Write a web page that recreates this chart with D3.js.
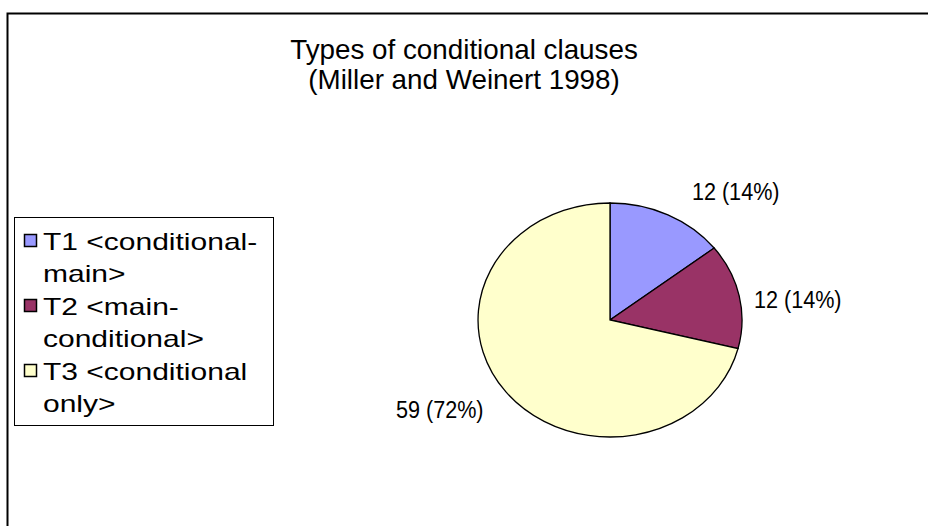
<!DOCTYPE html>
<html>
  <head>
    <meta charset="utf-8">
    <title>Types of conditional clauses</title>
    <script src="https://cdn.jsdelivr.net/npm/d3@7"></script>
    <style>
      body { margin: 0; background: #fff; }
      svg text { font-family: "Liberation Sans", Arial, Helvetica, sans-serif; fill: #000; }
    </style>
  </head>
  <body>
    <div id="chart"></div>
    <script>
      // data
      var categories = ["T1 <conditional-main>", "T2 <main-conditional>", "T3 <conditional only>"];
      var legendLines = [["T1 <conditional-", "main>"], ["T2 <main-", "conditional>"], ["T3 <conditional", "only>"]];
      var counts = [12, 12, 59];
      var pctLabels = ["14%", "14%", "72%"];
      var colors = ["#9999ff", "#993366", "#ffffcc"];
      var titleLines = ["Types of conditional clauses", "(Miller and Weinert 1998)"];

      var w = 928, h = 526;
      var svg = d3.select("#chart").append("svg")
        .attr("width", w)
        .attr("height", h);

      // outer chart frame (runs off the bottom/right)
      svg.append("rect")
        .attr("x", 7.5).attr("y", 13.5)
        .attr("width", 940).attr("height", 540)
        .attr("fill", "#fff")
        .attr("stroke", "#000")
        .attr("stroke-width", 2);

      // text widths in the picture don't follow one font, so each group gets its own scaleX
      svg.selectAll("g.title")
        .data(titleLines)
        .enter().append("g")
        .attr("class", "title")
        .attr("transform", function(d, i) { return "translate(464," + (59 + i * 30) + ") scale(1.03,1)"; })
        .append("text")
        .attr("text-anchor", "middle")
        .style("font-size", "27px")
        .text(function(d) { return d; });

      // pie, drawn on a unit circle and stretched into the ellipse
      var cx = 610, cy = 320, rx = 132, ry = 117;
      var pie = d3.pie().sort(null).value(function(d) { return d; });
      var arcs = pie(counts);
      var arc = d3.arc().innerRadius(0).outerRadius(1);

      var g = svg.append("g").attr("transform", "translate(" + cx + "," + cy + ") scale(" + rx + "," + ry + ")");
      g.selectAll("path")
        .data(arcs)
        .enter().append("path")
        .attr("d", arc)
        .attr("fill", function(d, i) { return colors[i]; })
        .attr("stroke", "#000")
        .attr("stroke-width", 1.3)
        .attr("vector-effect", "non-scaling-stroke");

      // data labels outside the pie, anchored by side like Excel does
      // (labels near 3 o'clock sit a bit closer and lower)
      function mid(d) { return (d.startAngle + d.endAngle) / 2; }
      svg.selectAll("g.lbl")
        .data(arcs)
        .enter().append("g")
        .attr("class", "lbl")
        .attr("transform", function(d) {
          var s = Math.sin(mid(d)), c = Math.cos(mid(d));
          var pad = 24 - 11 * Math.pow(Math.abs(s), 8);
          var x = cx + rx * s + (s >= 0 ? pad : -pad);
          var y = cy - ry * c - 26 * c + 14 * Math.pow(1 - Math.abs(c), 2);
          return "translate(" + x + "," + y + ") scale(0.9,1)";
        })
        .append("text")
        .attr("dy", "0.35em")
        .attr("text-anchor", function(d) { return Math.sin(mid(d)) >= 0 ? "start" : "end"; })
        .style("font-size", "24px")
        .text(function(d, i) { return d.value + " (" + pctLabels[i] + ")"; });

      // legend box
      var lg = svg.append("g").attr("transform", "translate(14,217)");
      lg.append("rect")
        .attr("x", 0.5).attr("y", 0.5)
        .attr("width", 259).attr("height", 208)
        .attr("fill", "#fff")
        .attr("stroke", "#000")
        .attr("stroke-width", 1);

      var item = lg.selectAll("g.item")
        .data(categories)
        .enter().append("g")
        .attr("class", "item")
        .attr("transform", function(d, i) { return "translate(0," + (i * 65) + ")"; });

      item.append("rect")
        .attr("x", 10.5).attr("y", 17.5)
        .attr("width", 12).attr("height", 12)
        .attr("fill", function(d, i) { return colors[i]; })
        .attr("stroke", "#000")
        .attr("stroke-width", 1.5);

      item.each(function(d, i) {
        var t = d3.select(this).append("g")
          .attr("transform", "translate(29,33) scale(1.25,1)")
          .append("text")
          .style("font-size", "24px");
        t.selectAll("tspan")
          .data(legendLines[i])
          .enter().append("tspan")
          .attr("x", 0)
          .attr("dy", function(s, j) { return j === 0 ? 0 : 32; })
          .text(function(s) { return s; });
      });
    </script>
  </body>
</html>
